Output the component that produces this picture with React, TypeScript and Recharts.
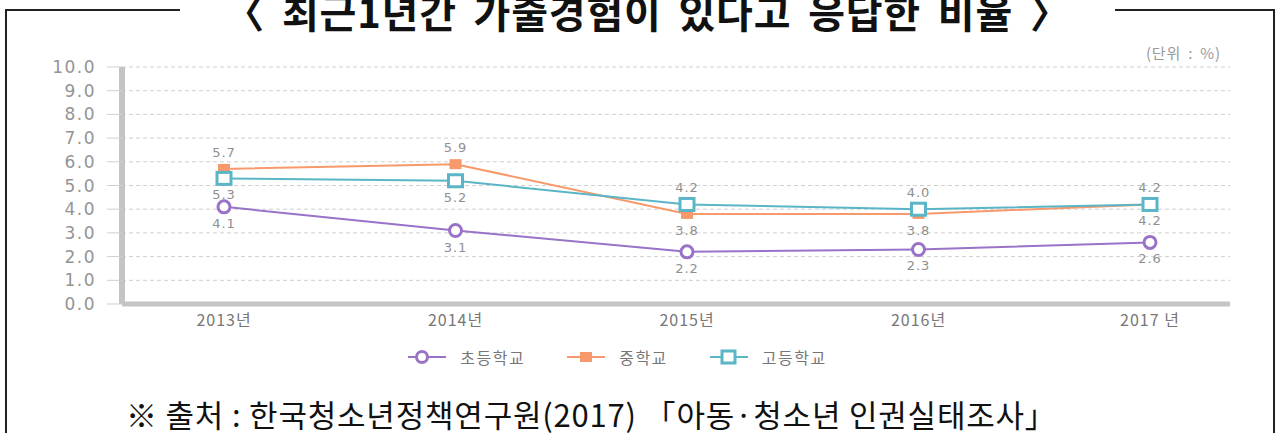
import React from 'react';
import { LineChart, Line, XAxis, YAxis, CartesianGrid, LabelList } from 'recharts';

const years = ['2013년', '2014년', '2015년', '2016년', '2017 년'];
const elementary = [4.1, 3.1, 2.2, 2.3, 2.6];
const middle = [5.7, 5.9, 3.8, 3.8, 4.2];
const high = [5.3, 5.2, 4.2, 4.0, 4.2];
const yTicks = [0, 1, 2, 3, 4, 5, 6, 7, 8, 9, 10];
const elementaryLabelPos = ['bottom', 'bottom', 'bottom', 'bottom', 'bottom'];
const middleLabelPos = ['top', 'top', 'bottom', 'bottom', 'bottom'];
const highLabelPos = ['bottom', 'bottom', 'top', 'top', 'top'];

const seriesNames = ['초등학교', '중학교', '고등학교'];
const PURPLE = '#9a72c8';
const ORANGE = '#f7996b';
const TEAL = '#5ab5c6';

const data = years.map((y, i) => ({
  year: y,
  elementary: elementary[i],
  middle: middle[i],
  high: high[i],
}));

const NUM_FONT = '"DejaVu Sans", sans-serif';
const KR_FONT = '"Noto Sans CJK KR", sans-serif';

const makeLabel = (positions: string[]) => (props: any) => {
  const { x, y, value, index } = props;
  const pos = positions[index];
  const dy = pos === 'top' ? -12 : 21;
  return (
    <text
      x={x}
      y={y + dy}
      textAnchor="middle"
      fontSize={13}
      fill="#8f8f8f"
      fontFamily={NUM_FONT}
      letterSpacing={1}
    >
      {Number(value).toFixed(1)}
    </text>
  );
};

const CircleDot = (props: any) => {
  const { cx, cy, index } = props;
  return <circle key={`c${index}`} cx={cx} cy={cy} r={6} fill="#fff" stroke={PURPLE} strokeWidth={3} />;
};
const OrangeDot = (props: any) => {
  const { cx, cy, index } = props;
  return <rect key={`o${index}`} x={cx - 6} y={cy - 5} width={12} height={10} fill={ORANGE} />;
};
const TealDot = (props: any) => {
  const { cx, cy, index } = props;
  return <rect key={`t${index}`} x={cx - 7} y={cy - 6} width={14} height={12} fill="#fff" stroke={TEAL} strokeWidth={3} />;
};

const LegendIcon = ({ kind }: { kind: number }) => (
  <svg width={38} height={16} style={{ display: 'block' }}>
    <line x1={0} y1={8} x2={38} y2={8} stroke={[PURPLE, ORANGE, TEAL][kind]} strokeWidth={2} />
    {kind === 0 && <circle cx={14} cy={8} r={5.5} fill="#fff" stroke={PURPLE} strokeWidth={3} />}
    {kind === 1 && <rect x={13} y={3} width={12} height={10} fill={ORANGE} />}
    {kind === 2 && <rect x={12} y={2} width={13} height={12} fill="#fff" stroke={TEAL} strokeWidth={3} />}
  </svg>
);

export default function App() {
  return (
    <div
      style={{
        position: 'absolute',
        left: 0,
        top: 0,
        width: 1275,
        height: 433,
        background: '#fff',
        overflow: 'hidden',
      }}
    >
      {/* frame */}
      <div style={{ position: 'absolute', left: 5, top: 9, width: 1266, height: 440, borderTop: '2px solid #222', borderLeft: '2px solid #222', borderRight: '2px solid #222' }} />
      {/* title */}
      <div
        style={{
          position: 'absolute',
          left: 180,
          top: -14,
          width: 935,
          height: 50,
          background: '#fff',
          textAlign: 'center',
          fontFamily: KR_FONT,
          fontWeight: 700,
          fontSize: 40,
          lineHeight: '50px',
          color: '#111',
          whiteSpace: 'nowrap',
          wordSpacing: 7,
          letterSpacing: 0.8,
        }}
      >
        〈 최근1년간 가출경험이 있다고 응답한 비율 〉
      </div>
      {/* unit */}
      <div
        style={{
          position: 'absolute',
          left: 1146,
          top: 42,
          fontFamily: KR_FONT,
          fontSize: 15,
          color: '#999',
          whiteSpace: 'nowrap',
          wordSpacing: 3,
          letterSpacing: 0.8,
        }}
      >
        (단위 : %)
      </div>
      <div style={{ position: 'absolute', left: 0, top: 0 }}>
        <LineChart
          width={1275}
          height={433}
          data={data}
          margin={{ top: 67, right: 45, bottom: 99, left: 62 }}
        >
          <CartesianGrid horizontal vertical={false} stroke="#cfcfcf" strokeDasharray="4 3" />
          <XAxis
            dataKey="year"
            type="category"
            scale="point"
            padding={{ left: 102, right: 80 }}
            axisLine={{ stroke: '#c4c4c4', strokeWidth: 5 }}
            tickLine={false}
            tick={{ fontSize: 16, fill: '#777', fontFamily: KR_FONT, letterSpacing: 1 }}
            tickMargin={5}
            height={30}
          />
          <YAxis
            width={60}
            domain={[0, 10]}
            ticks={yTicks}
            interval={0}
            tickFormatter={(v: number) => v.toFixed(1)}
            axisLine={{ stroke: '#c4c4c4', strokeWidth: 6 }}
            tickLine={{ stroke: '#cfcfcf' }}
            tickSize={15}
            tickMargin={11}
            tick={{ fontSize: 17, fill: '#949494', fontFamily: NUM_FONT, letterSpacing: 1.5 }}
          />
          <Line
            dataKey="elementary"
            name={seriesNames[0]}
            stroke={PURPLE}
            strokeWidth={2}
            dot={CircleDot}
            activeDot={false}
            isAnimationActive={false}
          >
            <LabelList dataKey="elementary" content={makeLabel(elementaryLabelPos)} />
          </Line>
          <Line
            dataKey="middle"
            name={seriesNames[1]}
            stroke={ORANGE}
            strokeWidth={2}
            dot={OrangeDot}
            activeDot={false}
            isAnimationActive={false}
          >
            <LabelList dataKey="middle" content={makeLabel(middleLabelPos)} />
          </Line>
          <Line
            dataKey="high"
            name={seriesNames[2]}
            stroke={TEAL}
            strokeWidth={2}
            dot={TealDot}
            activeDot={false}
            isAnimationActive={false}
          >
            <LabelList dataKey="high" content={makeLabel(highLabelPos)} />
          </Line>
        </LineChart>
      </div>
      {/* legend */}
      <div
        style={{
          position: 'absolute',
          top: 345,
          left: 0,
          width: 1275,
          display: 'flex',
          justifyContent: 'center',
          alignItems: 'center',
          paddingRight: 40,
          boxSizing: 'border-box',
          fontFamily: KR_FONT,
          fontSize: 16,
          color: '#777',
        }}
      >
        {seriesNames.map((n, i) => (
          <div key={n} style={{ display: 'flex', alignItems: 'center', marginRight: i < 2 ? 42 : 0 }}>
            <LegendIcon kind={i} />
            <span style={{ marginLeft: 14, letterSpacing: 1.5 }}>{n}</span>
          </div>
        ))}
      </div>
      {/* footnote */}
      <div
        style={{
          position: 'absolute',
          left: 126,
          top: 396,
          fontFamily: KR_FONT,
          fontSize: 31,
          lineHeight: '36px',
          color: '#111',
          whiteSpace: 'nowrap',
          letterSpacing: 0.8,
        }}
      >
        ※ 출처 : 한국청소년정책연구원(2017) 「아동·청소년 인권실태조사」
      </div>
    </div>
  );
}
